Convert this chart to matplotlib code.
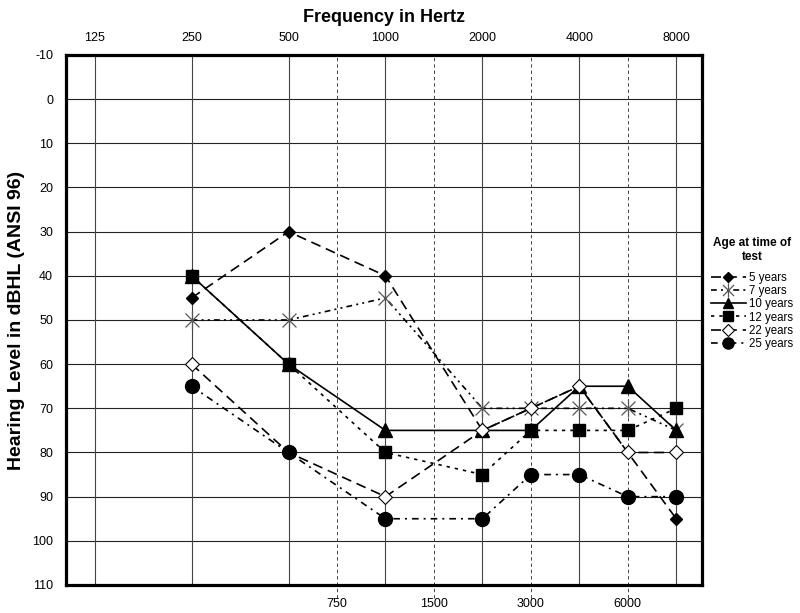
import numpy as np
import matplotlib
matplotlib.use("Agg")
import matplotlib.pyplot as plt
from matplotlib.path import Path
from matplotlib.ticker import FixedLocator, FixedFormatter

# ---------------- data ----------------
octave_freqs = [125, 250, 500, 1000, 2000, 4000, 8000]
half_freqs = [750, 1500, 3000, 6000]
octave_labels = ["125", "250", "500", "1000", "2000", "4000", "8000"]
half_labels = ["750", "1500", "3000", "6000"]
y_ticks = list(range(-10, 111, 10))

freqs = [250, 500, 1000, 2000, 3000, 4000, 6000, 8000]
y5 = [45, 30, 40, 75, 70, 65, 80, 95]
y7 = [50, 50, 45, 70, 70, 70, 70, 75]
y10 = [40, 60, 75, 75, 75, 65, 65, 75]
y12 = [40, 60, 80, 85, 75, 75, 75, 70]
y22 = [60, 80, 90, 75, 70, 65, 80, 80]
y25 = [65, 80, 95, 95, 85, 85, 90, 90]
series_labels = ["5 years", "7 years", "10 years", "12 years", "22 years", "25 years"]

# ---------------- audiogram x scale ----------------
_kf = np.log2([62.5, 125, 250, 500, 750, 1000, 1500, 2000, 3000, 4000, 6000, 8000, 16000])
_kp = np.array([-1, 0, 1, 2, 2.5, 3, 3.5, 4, 4.5, 5, 5.5, 6, 7], dtype=float)


def fwd(f):
    f = np.asarray(f, dtype=float)
    with np.errstate(divide="ignore", invalid="ignore"):
        lf = np.log2(np.clip(f, 1e-6, None))
    out = np.interp(lf, _kf, _kp)
    lo = lf < _kf[0]
    hi = lf > _kf[-1]
    out = np.where(lo, _kp[0] + (lf - _kf[0]), out)
    out = np.where(hi, _kp[-1] + (lf - _kf[-1]), out)
    return out


def inv(p):
    p = np.asarray(p, dtype=float)
    out = np.interp(p, _kp, _kf)
    out = np.where(p < _kp[0], _kf[0] + (p - _kp[0]), out)
    out = np.where(p > _kp[-1], _kf[-1] + (p - _kp[-1]), out)
    return 2.0 ** out


plt.rcParams["font.family"] = ["Liberation Sans", "DejaVu Sans"]

fig = plt.figure(figsize=(8, 6.13), dpi=100)
ax = fig.add_axes([0.082, 0.0457, 0.796, 0.8646])
ax.set_xscale("function", functions=(fwd, inv))
ax.set_xlim(float(inv(-0.30)), float(inv(6.27)))
ax.set_ylim(110, -10)

# grid
for yv in y_ticks:
    ax.axhline(yv, color="#222222", lw=0.8, zorder=1)
for f in octave_freqs:
    ax.axvline(f, color="#444444", lw=0.8, zorder=1)
for f in half_freqs:
    ax.axvline(f, ymin=-0.024, ymax=1, color="#444444", lw=0.7,
               ls=(0, (3.5, 3)), clip_on=False, zorder=1)

# asterisk marker (X plus vertical bar)
star = Path([(-1, -1), (1, 1), (-1, 1), (1, -1), (0, -1.3), (0, 1.3)],
            [Path.MOVETO, Path.LINETO, Path.MOVETO, Path.LINETO, Path.MOVETO, Path.LINETO])

lw = 1.2
ax.plot(freqs, y5, color="black", lw=lw, ls=(0, (6, 3.5)), marker="D", ms=6.5,
        mfc="black", mec="black", label=series_labels[0], zorder=3)
ax.plot(freqs, y7, color="black", lw=lw, ls=(0, (3.5, 2.5, 1.2, 2.5, 1.2, 2.5)), marker=star, ms=13,
        mfc="none", mec="#555555", mew=0.9, label=series_labels[1], zorder=3)
ax.plot(freqs, y10, color="black", lw=lw, ls="-", marker="^", ms=9.5,
        mfc="black", mec="black", label=series_labels[2], zorder=3)
ax.plot(freqs, y12, color="black", lw=lw, ls=(0, (2, 3)), marker="s", ms=9,
        mfc="black", mec="black", label=series_labels[3], zorder=3)
ax.plot(freqs, y22, color="black", lw=lw, ls=(0, (6, 3.5)), marker="D", ms=7.2,
        mfc="white", mec="black", mew=0.8, label=series_labels[4], zorder=3)
ax.plot(freqs, y25, color="black", lw=lw, ls=(0, (4, 3, 1.2, 3)), marker="o", ms=10,
        mfc="black", mec="black", label=series_labels[5], zorder=3)

# ticks
ax.xaxis.set_major_locator(FixedLocator(octave_freqs))
ax.xaxis.set_major_formatter(FixedFormatter(octave_labels))
ax.xaxis.set_minor_locator(FixedLocator(half_freqs))
ax.xaxis.set_minor_formatter(FixedFormatter(half_labels))
ax.tick_params(axis="x", which="major", length=0, labeltop=True, labelbottom=False,
               top=False, bottom=False, pad=8, labelsize=9)
ax.tick_params(axis="x", which="minor", length=0, labeltop=False, labelbottom=True,
               top=False, bottom=False, pad=9.5, labelsize=9)
for t in ax.xaxis.get_majorticklabels() + ax.xaxis.get_minorticklabels():
    t.set_fontfamily(["Liberation Sans Narrow", "Liberation Sans", "DejaVu Sans"])
ax.set_yticks(y_ticks)
ax.set_yticklabels([str(v) for v in y_ticks])
ax.tick_params(axis="y", length=0, pad=9, labelsize=9)

for s in ax.spines.values():
    s.set_linewidth(2.3)
    s.set_color("black")
    s.set_zorder(5)

ax.xaxis.set_label_position("top")
ax.set_xlabel("Frequency in Hertz", fontsize=13, fontweight="bold", labelpad=7)
ax.set_ylabel("Hearing Level in dBHL (ANSI 96)", fontsize=14, fontweight="bold", labelpad=5)

leg = ax.legend(loc="upper left", bbox_to_anchor=(0.889, 0.613), bbox_transform=fig.transFigure,
                frameon=False, fontsize=8.3, title="Age at time of\ntest",
                title_fontproperties={"weight": "bold", "size": 8.5},
                handlelength=3.0, handletextpad=0.3, labelspacing=0.1, markerscale=0.8,
                borderaxespad=0, borderpad=0, alignment="center")
leg.get_title().set_multialignment("center")
leg._legend_box.sep = 6.5

fig.savefig("out.png", dpi=100)
